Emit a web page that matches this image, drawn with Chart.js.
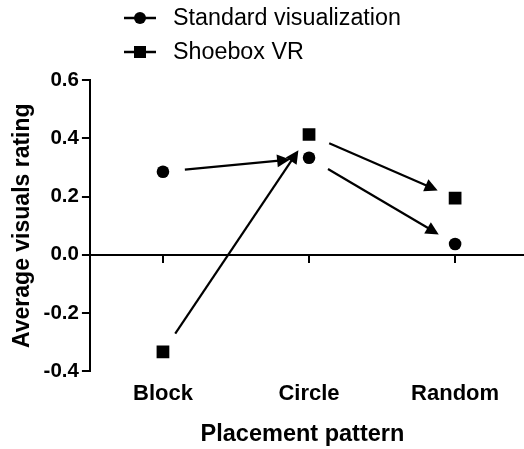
<!DOCTYPE html>
<html>
<head>
<meta charset="utf-8">
<script src="https://cdn.jsdelivr.net/npm/chart.js@4/dist/chart.umd.min.js"></script>
<style>
  html, body { margin: 0; padding: 0; background: #fff; overflow: hidden; }
  #wrap { position: relative; width: 524px; height: 449px; }
  canvas { display: block; }
</style>
</head>
<body>
<div id="wrap"><canvas id="ratingChart"></canvas></div>
<script>
// placement patterns and mean ratings per condition
const categories = ['Block', 'Circle', 'Random'];
const standardValues = [0.285, 0.333, 0.037];
const shoeboxValues = [-0.333, 0.413, 0.195];
const yTicks = [-0.4, -0.2, 0.0, 0.2, 0.4, 0.6];

const FONT = '"Liberation Sans", Arial, sans-serif';
Chart.defaults.font.family = FONT;
Chart.defaults.color = '#000';

const toPoints = vals => vals.map((v, i) => ({ x: i, y: v }));

// arrows from each point to the next one of the same series
const arrowPlugin = {
  id: 'arrows',
  afterDatasetsDraw(chart) {
    const ctx = chart.ctx;
    ctx.save();
    ctx.strokeStyle = '#000';
    ctx.fillStyle = '#000';
    ctx.lineWidth = 2.2;
    chart.data.datasets.forEach((ds, di) => {
      const pts = chart.getDatasetMeta(di).data;
      for (let i = 0; i < pts.length - 1; i++) {
        const p = pts[i], q = pts[i + 1];
        const dx = q.x - p.x, dy = q.y - p.y;
        const len = Math.hypot(dx, dy);
        const ux = dx / len, uy = dy / len;
        const sx = p.x + ux * 22, sy = p.y + uy * 22;
        const ex = q.x - ux * 19, ey = q.y - uy * 19;
        const head = 13, half = 6.5;
        const bx = ex - ux * head, by = ey - uy * head;
        ctx.beginPath();
        ctx.moveTo(sx, sy);
        ctx.lineTo(bx + ux * 2, by + uy * 2);
        ctx.stroke();
        ctx.beginPath();
        ctx.moveTo(ex, ey);
        ctx.lineTo(bx - uy * half, by + ux * half);
        ctx.lineTo(bx + uy * half, by - ux * half);
        ctx.closePath();
        ctx.fill();
      }
    });
    ctx.restore();
  }
};

// horizontal axis drawn along y = 0 with category tick marks
const zeroAxisPlugin = {
  id: 'zeroAxis',
  beforeDatasetsDraw(chart) {
    const { ctx, chartArea, scales } = chart;
    const y0 = Math.round(scales.y.getPixelForValue(0));
    ctx.save();
    ctx.strokeStyle = '#000';
    ctx.lineWidth = 2;
    ctx.beginPath();
    ctx.moveTo(chartArea.left, y0);
    ctx.lineTo(chart.width, y0);
    categories.forEach((c, i) => {
      const x = Math.round(scales.x.getPixelForValue(i));
      ctx.moveTo(x, y0);
      ctx.lineTo(x, y0 + 8);
    });
    ctx.stroke();
    ctx.restore();
  }
};

// stacked legend: line with marker, then label
const legendPlugin = {
  id: 'stackLegend',
  afterDraw(chart) {
    const ctx = chart.ctx;
    ctx.save();
    chart.data.datasets.forEach((ds, i) => {
      const y = 18 + i * 34;
      ctx.strokeStyle = '#000';
      ctx.lineWidth = 2.5;
      ctx.beginPath();
      ctx.moveTo(124, y);
      ctx.lineTo(156, y);
      ctx.stroke();
      ctx.fillStyle = '#000';
      Chart.helpers.drawPoint(ctx, {
        pointStyle: ds.pointStyle,
        radius: ds.pointStyle === 'rect' ? 8.5 : 6,
        rotation: 0,
        borderWidth: 0
      }, 140, y);
      ctx.font = '23.3px ' + FONT;
      ctx.textBaseline = 'middle';
      ctx.textAlign = 'left';
      ctx.fillText(ds.label, 173, y + 1);
    });
    ctx.restore();
  }
};

new Chart(document.getElementById('ratingChart'), {
  type: 'scatter',
  data: {
    datasets: [
      {
        label: 'Standard visualization',
        data: toPoints(standardValues),
        pointStyle: 'circle',
        pointRadius: 6.3,
        pointBackgroundColor: '#000',
        pointBorderWidth: 0,
        showLine: false
      },
      {
        label: 'Shoebox VR',
        data: toPoints(shoeboxValues),
        pointStyle: 'rect',
        pointRadius: 9,
        pointBackgroundColor: '#000',
        pointBorderWidth: 0,
        showLine: false
      }
    ]
  },
  options: {
    responsive: true,
    maintainAspectRatio: false,
    animation: false,
    layout: { padding: { top: 80, left: 0, right: 0, bottom: 0 } },
    plugins: {
      legend: { display: false },
      tooltip: { enabled: false }
    },
    scales: {
      x: {
        type: 'linear',
        min: -0.5,
        max: 2.41,
        afterBuildTicks: s => { s.ticks = categories.map((c, i) => ({ value: i })); },
        afterFit: s => { s.paddingLeft = 0; s.paddingRight = 0; },
        grid: { display: false, drawTicks: false },
        border: { display: false },
        ticks: {
          padding: 9,
          font: { size: 22, weight: 'bold' },
          callback: v => categories[v]
        },
        title: {
          display: true,
          text: 'Placement pattern',
          font: { size: 23.5, weight: 'bold' },
          padding: { top: 5, bottom: 0 }
        }
      },
      y: {
        min: -0.4,
        max: 0.6,
        afterBuildTicks: s => { s.ticks = yTicks.map(v => ({ value: v })); },
        grid: {
          drawOnChartArea: false,
          drawTicks: true,
          tickLength: 8,
          color: '#000',
          lineWidth: 2
        },
        border: { display: true, color: '#000', width: 2 },
        ticks: {
          padding: 3,
          font: { size: 20.5, weight: 'bold' },
          callback: v => v.toFixed(1)
        },
        title: {
          display: true,
          text: 'Average visuals rating',
          font: { size: 23, weight: 'bold' },
          padding: { top: 9, bottom: 4 }
        }
      }
    }
  },
  plugins: [zeroAxisPlugin, arrowPlugin, legendPlugin]
});
</script>
</body>
</html>
